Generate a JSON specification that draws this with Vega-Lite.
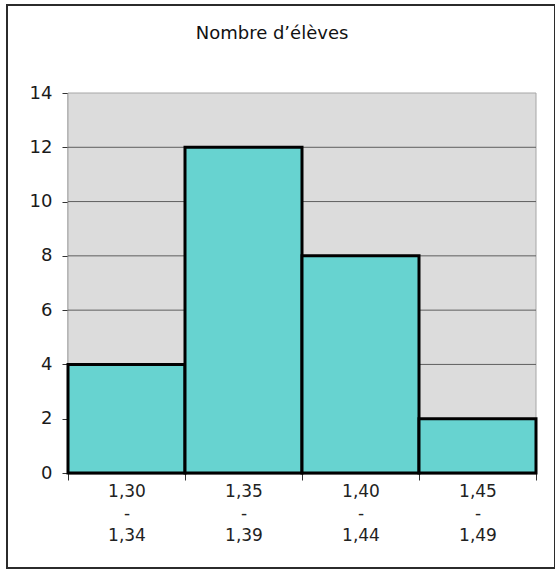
{
  "$schema": "https://vega.github.io/schema/vega-lite/v6.json",
  "width": 548,
  "height": 563,
  "autosize": "none",
  "padding": {"left": 7, "top": 5, "right": 0, "bottom": 3},
  "background": "white",
  "config": {
    "view": {"fill": "white", "stroke": "#2b2b2b", "strokeWidth": 2},
    "font": "DejaVu Sans"
  },
  "title": {
    "text": "Nombre d’élèves",
    "font": "DejaVu Sans",
    "fontSize": 18,
    "fontWeight": "normal",
    "color": "#111111",
    "frame": "group",
    "anchor": "middle",
    "baseline": "alphabetic",
    "offset": -52,
    "dx": -9
  },
  "encoding": {
    "x": {
      "type": "quantitative",
      "scale": {"domain": [1.30, 1.50], "range": [61, 529], "nice": false, "zero": false},
      "axis": {
        "title": null,
        "offset": -95,
        "values": [1.30, 1.35, 1.40, 1.45, 1.50],
        "grid": false,
        "domainColor": "#1a1a1a",
        "domainWidth": 1.5,
        "tickColor": "#333333",
        "tickSize": 7,
        "tickWidth": 1,
        "labelExpr": "datum.value > 1.47 ? '' : [replace(format(datum.value, '.2f'), '.', ','), '-', replace(format(datum.value + 0.04, '.2f'), '.', ',')]",
        "labelOffset": 58.5,
        "labelAlign": "center",
        "labelBaseline": "top",
        "labelLineHeight": 22,
        "labelPadding": 3,
        "labelFlush": false,
        "labelOverlap": false,
        "labelBound": false,
        "labelFont": "DejaVu Sans",
        "labelFontSize": 17,
        "labelColor": "#222222"
      }
    },
    "y": {
      "type": "quantitative",
      "scale": {"domain": [0, 14], "range": [468, 88], "nice": false, "zero": true},
      "axis": {
        "title": null,
        "offset": -61,
        "values": [0, 2, 4, 6, 8, 10, 12, 14],
        "grid": false,
        "domainColor": "#1a1a1a",
        "domainWidth": 1.5,
        "tickColor": "#333333",
        "tickSize": 6,
        "tickWidth": 1,
        "labelPadding": 10,
        "labelFont": "DejaVu Sans",
        "labelFontSize": 18,
        "labelColor": "#1a1a1a"
      }
    }
  },
  "layer": [
    {
      "data": {"values": [{"x0": 1.30, "x1": 1.50, "y0": 0, "y1": 14}]},
      "mark": {"type": "rect", "fill": "#dcdcdc", "stroke": "#a6a6a6", "strokeWidth": 1},
      "encoding": {
        "x": {"field": "x0"},
        "x2": {"field": "x1"},
        "y": {"field": "y0"},
        "y2": {"field": "y1"}
      }
    },
    {
      "data": {"values": [{"g": 2, "x0": 1.30, "x1": 1.50}, {"g": 4, "x0": 1.30, "x1": 1.50}, {"g": 6, "x0": 1.30, "x1": 1.50}, {"g": 8, "x0": 1.30, "x1": 1.50}, {"g": 10, "x0": 1.30, "x1": 1.50}, {"g": 12, "x0": 1.30, "x1": 1.50}]},
      "mark": {"type": "rule", "color": "#5e5e5e", "strokeWidth": 1},
      "encoding": {
        "y": {"field": "g"},
        "x": {"field": "x0"},
        "x2": {"field": "x1"}
      }
    },
    {
      "data": {
        "values": [
          {"debut": 1.30, "fin": 1.35, "eleves": 4},
          {"debut": 1.35, "fin": 1.40, "eleves": 12},
          {"debut": 1.40, "fin": 1.45, "eleves": 8},
          {"debut": 1.45, "fin": 1.50, "eleves": 2}
        ]
      },
      "mark": {"type": "rect", "fill": "#67d3d0", "stroke": "#000000", "strokeWidth": 3},
      "encoding": {
        "x": {"field": "debut"},
        "x2": {"field": "fin"},
        "y": {"field": "eleves"},
        "y2": {"datum": 0}
      }
    }
  ]
}
